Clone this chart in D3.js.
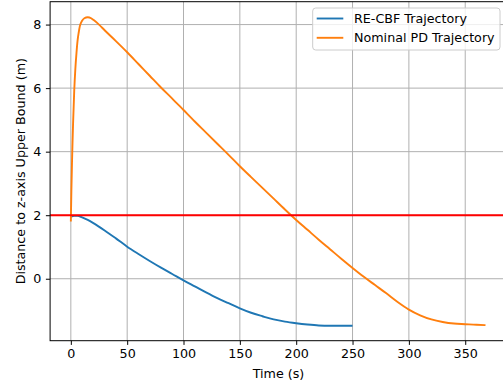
<!DOCTYPE html>
<html><head><meta charset="utf-8">
<script src="https://cdn.jsdelivr.net/npm/d3@7"></script>
<style>body{margin:0;background:#fff}svg{display:block}text{font-family:"DejaVu Sans",sans-serif;fill:#000}</style>
</head><body><svg id="c" width="503" height="387"></svg>
<script>
const orangeT = [0,0.5,1,1.5,2,3,4,5,6,7,8,10,12,15,18,20,25,30,40,50,60,70,80,90,100,110,120,130,140,150,160,170,180,190,200,210,220,230,240,250,260,270,280,290,300,310,320,330,340,350,360,368];
const orangeY = [1.8,2.8,3.6,4.3,4.9,5.9,6.6,7.1,7.5,7.75,7.95,8.12,8.2,8.23,8.2,8.15,8.0,7.82,7.48,7.13,6.76,6.39,6.02,5.67,5.31,4.95,4.6,4.25,3.9,3.54,3.2,2.86,2.52,2.18,1.85,1.54,1.23,0.93,0.63,0.34,0.06,-0.2,-0.46,-0.73,-0.97,-1.15,-1.28,-1.36,-1.41,-1.43,-1.45,-1.46];
const blueT = [0,3,6,10,15,20,30,40,50,60,70,80,90,100,110,120,130,140,150,160,170,180,190,200,210,220,230,240,250];
const blueY = [1.95,1.98,1.98,1.93,1.85,1.75,1.52,1.27,1.01,0.78,0.56,0.35,0.15,-0.05,-0.24,-0.43,-0.61,-0.77,-0.93,-1.07,-1.18,-1.28,-1.35,-1.40,-1.44,-1.47,-1.48,-1.48,-1.48];
const threshold = 2;
const xTicks = [0,50,100,150,200,250,300,350];
const yTicks = [0,2,4,6,8];
const seriesNames = ["RE-CBF Trajectory","Nominal PD Trajectory"];
const colors = ["#1f77b4","#ff7f0e"];

const svg = d3.select("#c");
const L=50.1, R=506.8, T=1.7, B=340.7;
const x = d3.scaleLinear().domain([-18.4,386.9]).range([L,R]);
const y = d3.scaleLinear().domain([-1.95,8.72]).range([B,T]);
const fs = 12.7;

// grid
const g = svg.append("g");
g.selectAll(".gx").data(xTicks).join("line").attr("x1",d=>x(d)).attr("x2",d=>x(d)).attr("y1",T).attr("y2",B).attr("stroke","#b0b0b0").attr("stroke-width",1);
g.selectAll(".gy").data(yTicks).join("line").attr("y1",d=>y(d)).attr("y2",d=>y(d)).attr("x1",L).attr("x2",R).attr("stroke","#b0b0b0").attr("stroke-width",1);

svg.append("clipPath").attr("id","cp").append("rect").attr("x",L).attr("y",T).attr("width",R-L).attr("height",B-T);
const plot = svg.append("g").attr("clip-path","url(#cp)");
const line = d3.line().x(d=>x(d[0])).y(d=>y(d[1])).curve(d3.curveMonotoneX);
plot.append("path").datum(blueT.map((t,i)=>[t,blueY[i]])).attr("d",line).attr("fill","none").attr("stroke",colors[0]).attr("stroke-width",1.9);
plot.append("path").datum(orangeT.map((t,i)=>[t,orangeY[i]])).attr("d",line).attr("fill","none").attr("stroke",colors[1]).attr("stroke-width",1.9);
plot.append("line").attr("x1",L).attr("x2",R).attr("y1",y(threshold)).attr("y2",y(threshold)).attr("stroke","#ff0000").attr("stroke-width",1.9);

// axes
const ax = svg.append("g").attr("transform",`translate(0,${B})`).call(d3.axisBottom(x).tickValues(xTicks).tickSize(4.2).tickPadding(4.5).tickFormat(d3.format("d")));
const ay = svg.append("g").attr("transform",`translate(${L},0)`).call(d3.axisLeft(y).tickValues(yTicks).tickSize(4.2).tickPadding(4.5).tickFormat(d3.format("d")));
[ax,ay].forEach(a=>{a.select(".domain").remove();a.selectAll("text").attr("font-size",fs).attr("font-family","DejaVu Sans");a.selectAll("line").attr("stroke","#000").attr("stroke-width",1);});
// spines
svg.append("rect").attr("x",L).attr("y",T).attr("width",R-L).attr("height",B-T).attr("fill","none").attr("stroke","#000").attr("stroke-width",1);

svg.append("text").attr("x",(L+R)/2).attr("y",377.5).attr("text-anchor","middle").attr("font-size",fs).text("Time (s)");
svg.append("text").attr("transform",`translate(24.8,${(T+B)/2}) rotate(-90)`).attr("text-anchor","middle").attr("font-size",fs).text("Distance to z-axis Upper Bound (m)");

// legend
const lg = svg.append("g");
lg.append("rect").attr("x",312.7).attr("y",8).attr("width",187.3).attr("height",42).attr("rx",3).attr("fill","#fff").attr("fill-opacity",0.8).attr("stroke","#cccccc").attr("stroke-width",1);
seriesNames.forEach((n,i)=>{
  const yy = 18.5 + i*19.3;
  lg.append("line").attr("x1",316.7).attr("x2",343.3).attr("y1",yy).attr("y2",yy).attr("stroke",colors[i]).attr("stroke-width",1.9);
  lg.append("text").attr("x",354).attr("y",yy+4.5).attr("font-size",fs).text(n);
});
</script></body></html>
